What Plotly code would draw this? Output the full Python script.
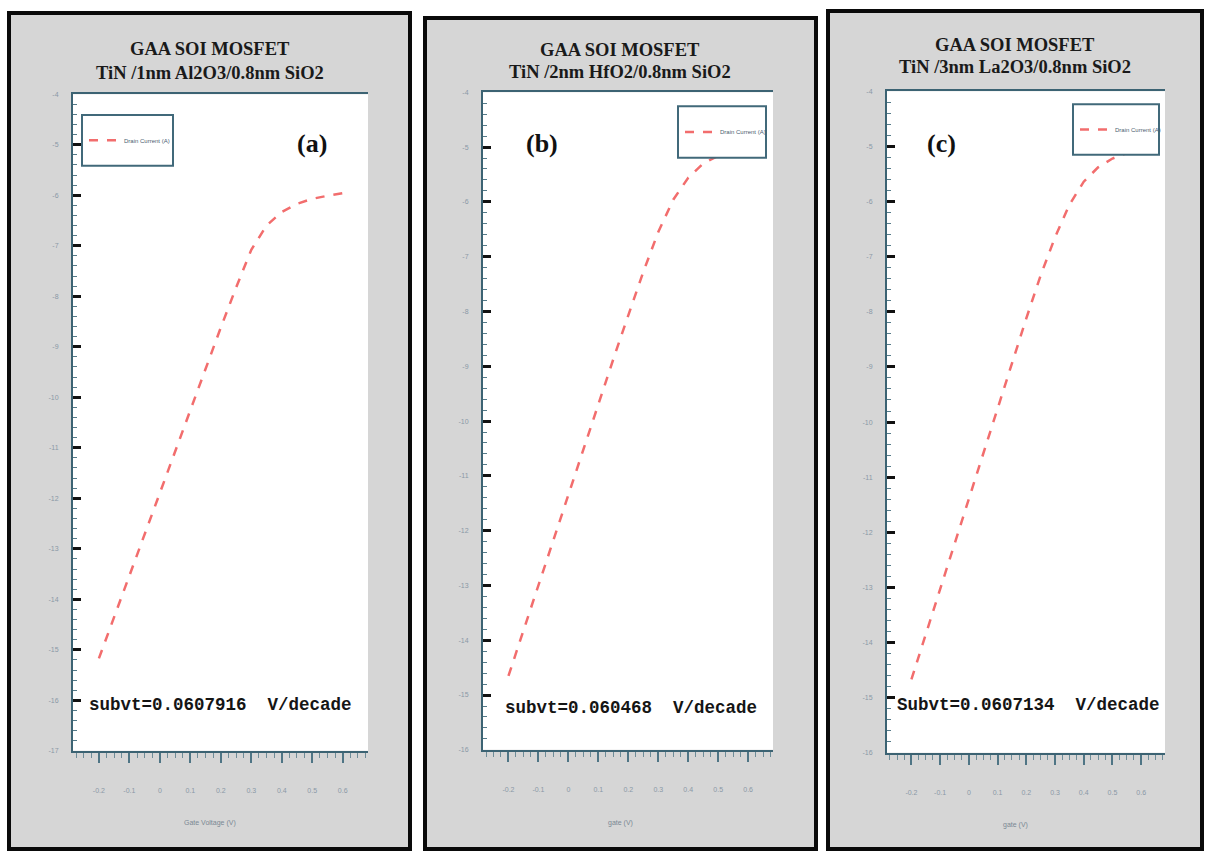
import plotly.graph_objects as go

W, H = 1205, 854

gate_v = [-0.2, -0.15, -0.1, -0.05, 0.0, 0.05, 0.1, 0.15, 0.2, 0.25, 0.3, 0.35, 0.4, 0.45, 0.5, 0.55, 0.6]
log_id_a = [-15.17, -14.35, -13.53, -12.70, -11.88, -11.06, -10.24, -9.42, -8.62, -7.83, -7.08, -6.60, -6.33, -6.17, -6.07, -6.01, -5.96]
log_id_b = [-14.65, -13.82, -12.99, -12.16, -11.33, -10.50, -9.68, -8.87, -8.07, -7.28, -6.55, -5.96, -5.56, -5.30, -5.16, -5.08, -5.03]
log_id_c = [-14.67, -13.85, -13.03, -12.20, -11.38, -10.55, -9.73, -8.92, -8.12, -7.34, -6.65, -6.06, -5.64, -5.38, -5.22, -5.12, -5.06]

x_ticks = [-0.2, -0.1, 0.0, 0.1, 0.2, 0.3, 0.4, 0.5, 0.6]
x_ticktext = ["-0.2", "-0.1", "0", "0.1", "0.2", "0.3", "0.4", "0.5", "0.6"]
y_ticks_a = list(range(-4, -18, -1))
y_ticks_bc = list(range(-4, -17, -1))

titles = ["TiN /1nm Al2O3/0.8nm SiO2", "TiN /2nm HfO2/0.8nm SiO2", "TiN /3nm La2O3/0.8nm SiO2"]
panel_tags = ["(a)", "(b)", "(c)"]
subvt_texts = ["subvt=0.0607916  V/decade", "subvt=0.060468  V/decade", "Subvt=0.0607134  V/decade"]
xlabels = ["Gate Voltage (V)", "gate (V)", "gate (V)"]
legend_name = "Drain Current (A)"

def px(x):
    return x / W

def py(y):
    return 1 - y / H

# layout geometry (pixels)
frames = [(9, 9, 410, 852), (425, 14, 816, 852), (828, 7, 1202, 852)]
plots = [(73, 91, 368, 753), (483, 89, 773, 752), (887, 88, 1165, 755)]
legboxes = [(82, 112, 173, 163), (678, 103, 766, 155), (1073, 101, 1159, 152)]
title_y = [(45, 70), (46, 69), (41, 64)]
tag_pos = [(312, 141), (542, 141), (941, 141)]
subvt_pos = [(87, 707), (503, 710), (895, 707)]
xlab_y = [826, 826, 828]

fig = go.Figure()
series = [log_id_a, log_id_b, log_id_c]
yranges = [[-17, -4], [-16, -4], [-16, -4]]
yticks = [y_ticks_a, y_ticks_bc, y_ticks_bc]

shapes = []
annotations = []
for i in range(3):
    fx0, fy0, fx1, fy1 = frames[i]
    shapes.append(dict(type="rect", xref="paper", yref="paper", x0=px(fx0), x1=px(fx1),
                       y0=py(fy1), y1=py(fy0), fillcolor="#d6d6d6",
                       line=dict(color="#0a0a0a", width=4), layer="below"))
for i in range(3):
    x0, y0, x1, y1 = plots[i]
    shapes.append(dict(type="rect", xref="paper", yref="paper", x0=px(x0), x1=px(x1),
                       y0=py(y1), y1=py(y0), fillcolor="white",
                       line=dict(width=0), layer="below"))

for i in range(3):
    sfx = "" if i == 0 else str(i + 1)
    leg = "legend" if i == 0 else "legend" + str(i + 1)
    fig.add_trace(go.Scatter(
        x=gate_v, y=series[i], mode="lines", name=legend_name,
        line=dict(color="#f26d6d", width=2.5, dash="dash"),
        xaxis="x" + sfx, yaxis="y" + sfx, legend=leg, showlegend=True))
    x0, y0, x1, y1 = plots[i]
    axis_common = dict(showgrid=False, zeroline=False)
    fig.update_layout(**{
        "xaxis" + sfx: dict(domain=[px(x0), px(x1)], range=[-0.285, 0.683], anchor="y" + sfx,
                            tickvals=x_ticks, ticktext=x_ticktext, ticks="outside", ticklen=10,
                            tickwidth=2, tickcolor="#4f7585", showline=True, linecolor="#3c6373",
                            linewidth=2, mirror=True, ticklabelstandoff=22,
                            tickfont=dict(size=7, color="#8a98a6", family="Liberation Sans"),
                            minor=dict(dtick=0.025, ticks="outside", ticklen=5, tickcolor="#6f8d99", tickwidth=1),
                            **axis_common),
        "yaxis" + sfx: dict(domain=[py(y1), py(y0)], range=yranges[i], anchor="x" + sfx,
                            tickvals=yticks[i], ticktext=[str(v) for v in yticks[i]],
                            ticks="inside", ticklen=8, tickwidth=3, tickcolor="#111111",
                            showline=True, linecolor="#3c6373", linewidth=2,
                            tickfont=dict(size=7, color="#8a98a6", family="Liberation Sans"),
                            ticklabelstandoff=11,
                            minor=dict(dtick=0.2, ticks="inside", ticklen=4, tickcolor="#557a88", tickwidth=1),
                            **axis_common),
    })
    lx0, ly0, lx1, ly1 = legboxes[i]
    shapes.append(dict(type="rect", xref="paper", yref="paper", x0=px(lx0), x1=px(lx1),
                       y0=py(ly1), y1=py(ly0), fillcolor="white",
                       line=dict(color="#41697a", width=2), layer="above"))
    fig.update_layout(**{leg: dict(x=px(lx0 + 2), y=py((ly0 + ly1) / 2), xanchor="left", yanchor="middle",
                                   bgcolor="rgba(0,0,0,0)", borderwidth=0,
                                   font=dict(size=6, color="#4a6070", family="Liberation Sans"),
                                   itemwidth=30)})
    cx = (frames[i][0] + frames[i][2]) / 2
    annotations.append(dict(text="<b>GAA SOI MOSFET</b>", x=px(cx), y=py(title_y[i][0]), xref="paper", yref="paper",
                            showarrow=False, font=dict(family="Liberation Serif", size=18.5, color="#1a1a1a"),
                            xanchor="center", yanchor="middle"))
    annotations.append(dict(text="<b>" + titles[i] + "</b>", x=px(cx), y=py(title_y[i][1]), xref="paper", yref="paper",
                            showarrow=False, font=dict(family="Liberation Serif", size=18.5, color="#1a1a1a"),
                            xanchor="center", yanchor="middle"))
    annotations.append(dict(text="<b>" + panel_tags[i] + "</b>", x=px(tag_pos[i][0]), y=py(tag_pos[i][1]),
                            xref="paper", yref="paper", showarrow=False,
                            font=dict(family="Liberation Serif", size=26, color="#111111"),
                            xanchor="center", yanchor="middle"))
    annotations.append(dict(text="<b>" + subvt_texts[i] + "</b>", x=px(subvt_pos[i][0]), y=py(subvt_pos[i][1]),
                            xref="paper", yref="paper", showarrow=False,
                            font=dict(family="Liberation Mono", size=17.5, color="#151515"),
                            xanchor="left", yanchor="middle"))
    annotations.append(dict(text=xlabels[i], x=px(cx), y=py(xlab_y[i]), xref="paper", yref="paper",
                            showarrow=False, font=dict(family="Liberation Sans", size=7, color="#7a8894"),
                            xanchor="center", yanchor="middle"))

fig.update_layout(width=W, height=H, margin=dict(l=0, r=0, t=0, b=0),
                  paper_bgcolor="white", plot_bgcolor="white",
                  shapes=shapes, annotations=annotations)

fig.write_html("out.html", config={"displayModeBar": False},
               post_script="document.body.style.margin='0';document.body.style.padding='0';")
